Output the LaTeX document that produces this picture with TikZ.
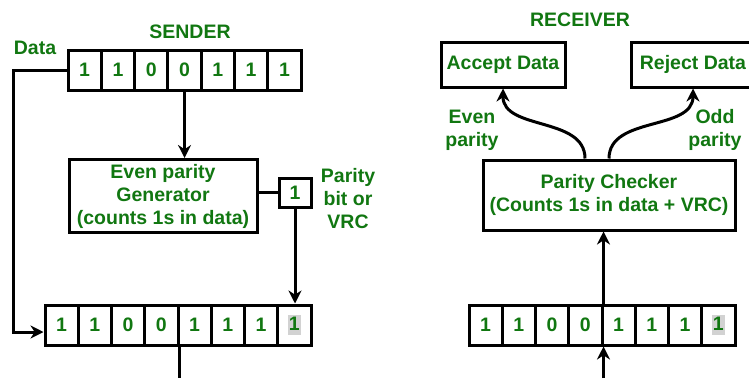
\documentclass[tikz,border=0pt]{standalone}
\usepackage{fontspec}
\setmainfont{Liberation Sans}
\usetikzlibrary{arrows.meta}
\definecolor{txtgreen}{RGB}{17,119,17}
\newcommand{\vrcbit}[1]{{\setlength{\fboxsep}{1pt}\colorbox{gray!35}{\rule[-4pt]{0pt}{18pt}#1}}}

\begin{document}
\begin{tikzpicture}[x=1pt,y=-1pt,
    txt/.style={text=txtgreen,font=\fontsize{19.5}{23}\selectfont\bfseries,align=center},
    cell/.style={txt,draw,line width=3pt,minimum width=33.3pt,minimum height=40pt,inner sep=0pt},
    block/.style={txt,draw,line width=3pt,inner sep=0pt},
    arr/.style={line width=3pt,-{Stealth[length=13pt,width=13pt]}}]
  \useasboundingbox (0,0) rectangle (749,378);
  % sender
  \node[txt] (sendtitle) at (190,32) {SENDER};
  \node[txt] (datalbl) at (35,48) {Data};
  \foreach \b [count=\i] in {1,1,0,0,1,1,1}
    \node[cell] (s\i) at ({68+33.3*(\i-0.5)},70) {\b};
  \node[block,minimum width=188pt,minimum height=73pt] (gen) at (163,196) {Even parity\\Generator\\(counts 1s in data)};
  \node[block,minimum width=32pt,minimum height=29pt] (pbit) at (295,192.5) {1};
  \node[txt] (vrclbl) at (348,199) {Parity\\bit or\\VRC};
  \foreach \b [count=\i] in {1,1,0,0,1,1,1}
    \node[cell,minimum width=33.25pt] (b\i) at ({45+33.25*(\i-0.5)},325) {\b};
  \node[cell,minimum width=33.25pt] (b8) at ({45+33.25*7.5},325) {\vrcbit{1}};
  \draw[arr] (s4.south) -- (s4.south |- gen.north);
  \draw[line width=3pt] (pbit.west) -- (pbit.west -| gen.east);
  \draw[arr] (pbit.south) -- (pbit.south |- b8.north);
  \draw[arr] (s1.west) -- ++(-53,0) |- ([yshift=-7pt]b1.west);
  \coordinate (sendout) at (180,378);
  \draw[line width=3pt] (b4.south east) -- (b4.south east |- sendout);
  % receiver
  \node[txt] (recvtitle) at (580,20) {RECEIVER};
  \node[block,minimum width=124pt,minimum height=45pt] (acc) at (503,64.5) {Accept Data};
  \node[block,minimum width=124pt,minimum height=45pt] (rej) at (693,64.5) {Reject Data};
  \node[block,minimum width=252pt,minimum height=70pt] (chk) at (609,195) {Parity Checker\\(Counts 1s in data + VRC)};
  \node[txt] (evenlbl) at (472,130) {Even\\parity};
  \node[txt] (oddlbl) at (715,130) {Odd\\parity};
  \foreach \b [count=\i] in {1,1,0,0,1,1,1}
    \node[cell,minimum width=33.25pt] (r\i) at ({469+33.25*(\i-0.5)},325) {\b};
  \node[cell,minimum width=33.25pt] (r8) at ({469+33.25*7.5},325) {\vrcbit{1}};
  \draw[arr] ([xshift=-24pt]chk.north) to[out=90,in=-90] (acc.south);
  \draw[arr] (chk.north) to[out=90,in=-90] (rej.south);
  \draw[arr] (r4.north east) -- (r4.north east |- chk.south);
  \coordinate (recvin) at (602,378);
  \draw[arr] (r4.south east |- recvin) -- (r4.south east);
\end{tikzpicture}
\end{document}
